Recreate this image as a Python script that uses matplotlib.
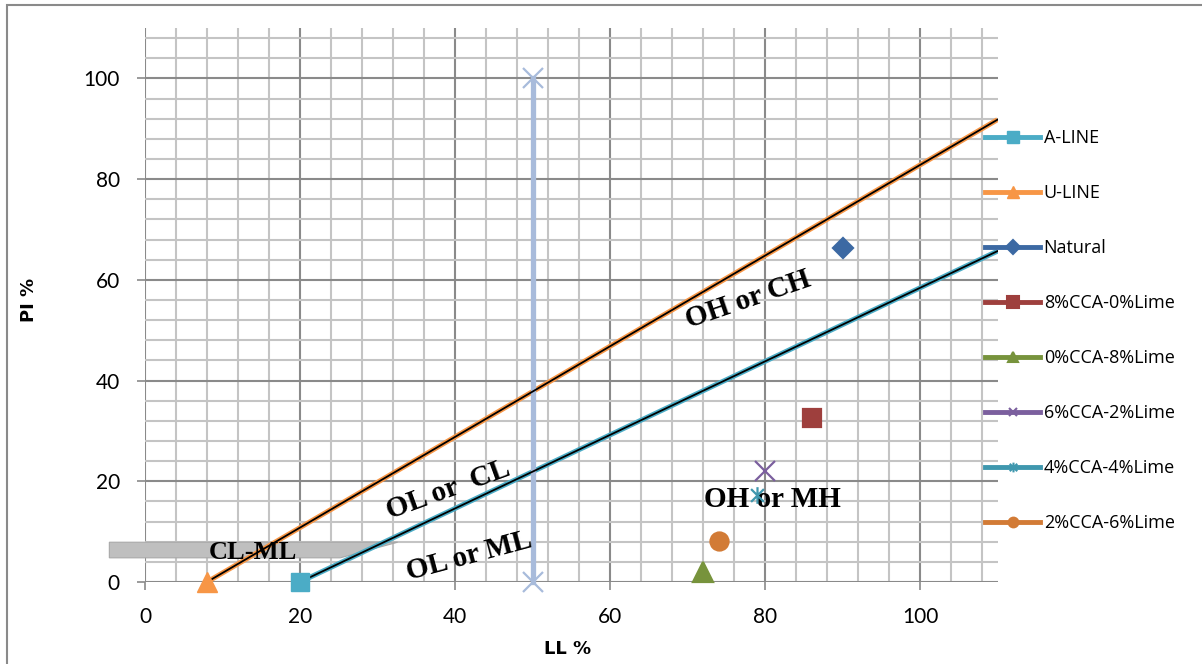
import matplotlib
matplotlib.use("Agg")
import matplotlib.pyplot as plt
from matplotlib.ticker import MultipleLocator
from matplotlib.lines import Line2D
from matplotlib.patches import Polygon, Rectangle
from matplotlib.path import Path

# plasticity chart lines
a_line_x = [20, 110]
a_line_y = [0, 65.7]
u_line_x = [8, 110]
u_line_y = [0, 91.8]
ll50_x = [50, 50]
ll50_y = [0, 100]

# soil samples (LL, PI)
sample_names = ["Natural", "8%CCA-0%Lime", "0%CCA-8%Lime", "6%CCA-2%Lime",
                "4%CCA-4%Lime", "2%CCA-6%Lime"]
sample_ll = [90, 86, 72, 80, 79, 74]
sample_pi = [66.4, 32.5, 2.0, 22.0, 17.3, 8.2]
sample_colors = ["#3C69A3", "#9E3F3D", "#77933C", "#7B5F9E", "#3F97AE", "#D27B36"]

# zone labels: text, LL, PI, rotation
zone_text = ["OH or CH", "OL or  CL", "OL or ML", "OH or MH", "CL-ML"]
zone_x = [77.8, 39.1, 41.8, 80.9, 13.9]
zone_y = [56.0, 18.3, 5.2, 16.3, 5.95]
zone_rot = [19, 20, 15, 0, 0]
zone_size = [21, 21, 21, 21, 19]

# excel style star: an x with a vertical stroke
star = Path([(-1, -1), (1, 1), (-1, 1), (1, -1), (0, -1.3), (0, 1.3)],
            [Path.MOVETO, Path.LINETO, Path.MOVETO, Path.LINETO,
             Path.MOVETO, Path.LINETO])
sample_markers = ["D", "s", "^", "x", star, "o"]
sample_sizes = [10, 13, 15, 14, 12, 13]
legend_sizes = [7, 8, 7, 6, 7, 7]

fig = plt.figure(figsize=(12.02, 6.64), dpi=100)
ax = fig.add_axes([145 / 1202, 1 - 582 / 664, 852.5 / 1202, 554 / 664])

ax.set_xlim(0, 110)
ax.set_ylim(0, 110)
ax.xaxis.set_major_locator(MultipleLocator(20))
ax.yaxis.set_major_locator(MultipleLocator(20))
ax.xaxis.set_minor_locator(MultipleLocator(4))
ax.yaxis.set_minor_locator(MultipleLocator(4))
ax.grid(which="minor", color="#C4C4C4", lw=1.5, zorder=0)
ax.grid(which="major", color="#8A8A8A", lw=1.5, zorder=0)
ax.set_axisbelow(True)
for s in ax.spines.values():
    s.set_visible(False)
ax.tick_params(which="major", length=6, width=1.2, color="#8A8A8A", pad=12,
               labelsize=15)
ax.tick_params(which="minor", length=0)
for lab in ax.get_xticklabels() + ax.get_yticklabels():
    lab.set_family("Lato")

# CL-ML band pointer
band = Polygon([(-4.6, 7.9), (32.6, 7.9), (25.2, 4.8), (-4.6, 4.8)], closed=True,
               facecolor="#BFBFBF", edgecolor="#A8A8A8", lw=0.8, zorder=2,
               clip_on=False)
ax.add_patch(band)

# A and U lines with black overlay
ax.plot(a_line_x, a_line_y, color="#4BACC6", lw=3.6, zorder=3, solid_capstyle="butt")
ax.plot(a_line_x, a_line_y, color="black", lw=1.3, zorder=4)
ax.plot(a_line_x[:1], a_line_y[:1], "s", color="#4BACC6", ms=13, zorder=5, clip_on=False)
ax.plot(u_line_x, u_line_y, color="#F79646", lw=3.6, zorder=3, solid_capstyle="butt")
ax.plot(u_line_x, u_line_y, color="black", lw=1.3, zorder=4)
ax.plot(u_line_x[:1], u_line_y[:1], "^", color="#F79646", ms=15, zorder=5, clip_on=False)

# LL = 50 divider
ax.plot(ll50_x, ll50_y, color="#A8BBDB", lw=3.8, marker="x", ms=15, mew=1.6,
        zorder=3, clip_on=False)

for t, x, y, r, fs in zip(zone_text, zone_x, zone_y, zone_rot, zone_size):
    ax.text(x, y, t, rotation=r, ha="center", va="center", fontsize=fs,
            fontweight="bold", family="Liberation Serif", zorder=6,
            rotation_mode="anchor")

for x, y, c, m, size in zip(sample_ll, sample_pi, sample_colors, sample_markers,
                            sample_sizes):
    ax.plot([x], [y], marker=m, color=c, ms=size, mew=1.6, ls="none",
            zorder=8, clip_on=False)

ax.set_xlabel("LL %", fontsize=13, fontweight="bold", family="DejaVu Sans")
ax.set_ylabel("PI %", fontsize=13, fontweight="bold", family="DejaVu Sans")
ax.xaxis.set_label_coords(0.496, -0.105)
ax.yaxis.set_label_coords(-0.125, 0.509)

# legend
handles = [
    Line2D([], [], color="#4BACC6", lw=3.5, marker="s", ms=8),
    Line2D([], [], color="#F79646", lw=3.5, marker="^", ms=8),
]
for c, m, size in zip(sample_colors, sample_markers, legend_sizes):
    handles.append(Line2D([], [], color=c, lw=3.5, marker=m, ms=size, mew=1.5))
labels = ["A-LINE", "U-LINE"] + sample_names
leg = fig.legend(handles, labels, loc="center left",
                 bbox_to_anchor=(985 / 1202, 1 - 330.5 / 664),
                 frameon=False, borderpad=0, borderaxespad=0,
                 handlelength=3.05, handletextpad=0.2, labelspacing=2.05,
                 prop={"family": "Open Sans", "size": 13})

# chart border
fig.patches.append(Rectangle((7 / 1202, -0.1), 1.2, 1.1 - 5 / 664, fill=False,
                             edgecolor="#8A8A8A", lw=1.5,
                             transform=fig.transFigure, figure=fig))

fig.savefig("out.png", dpi=100)
